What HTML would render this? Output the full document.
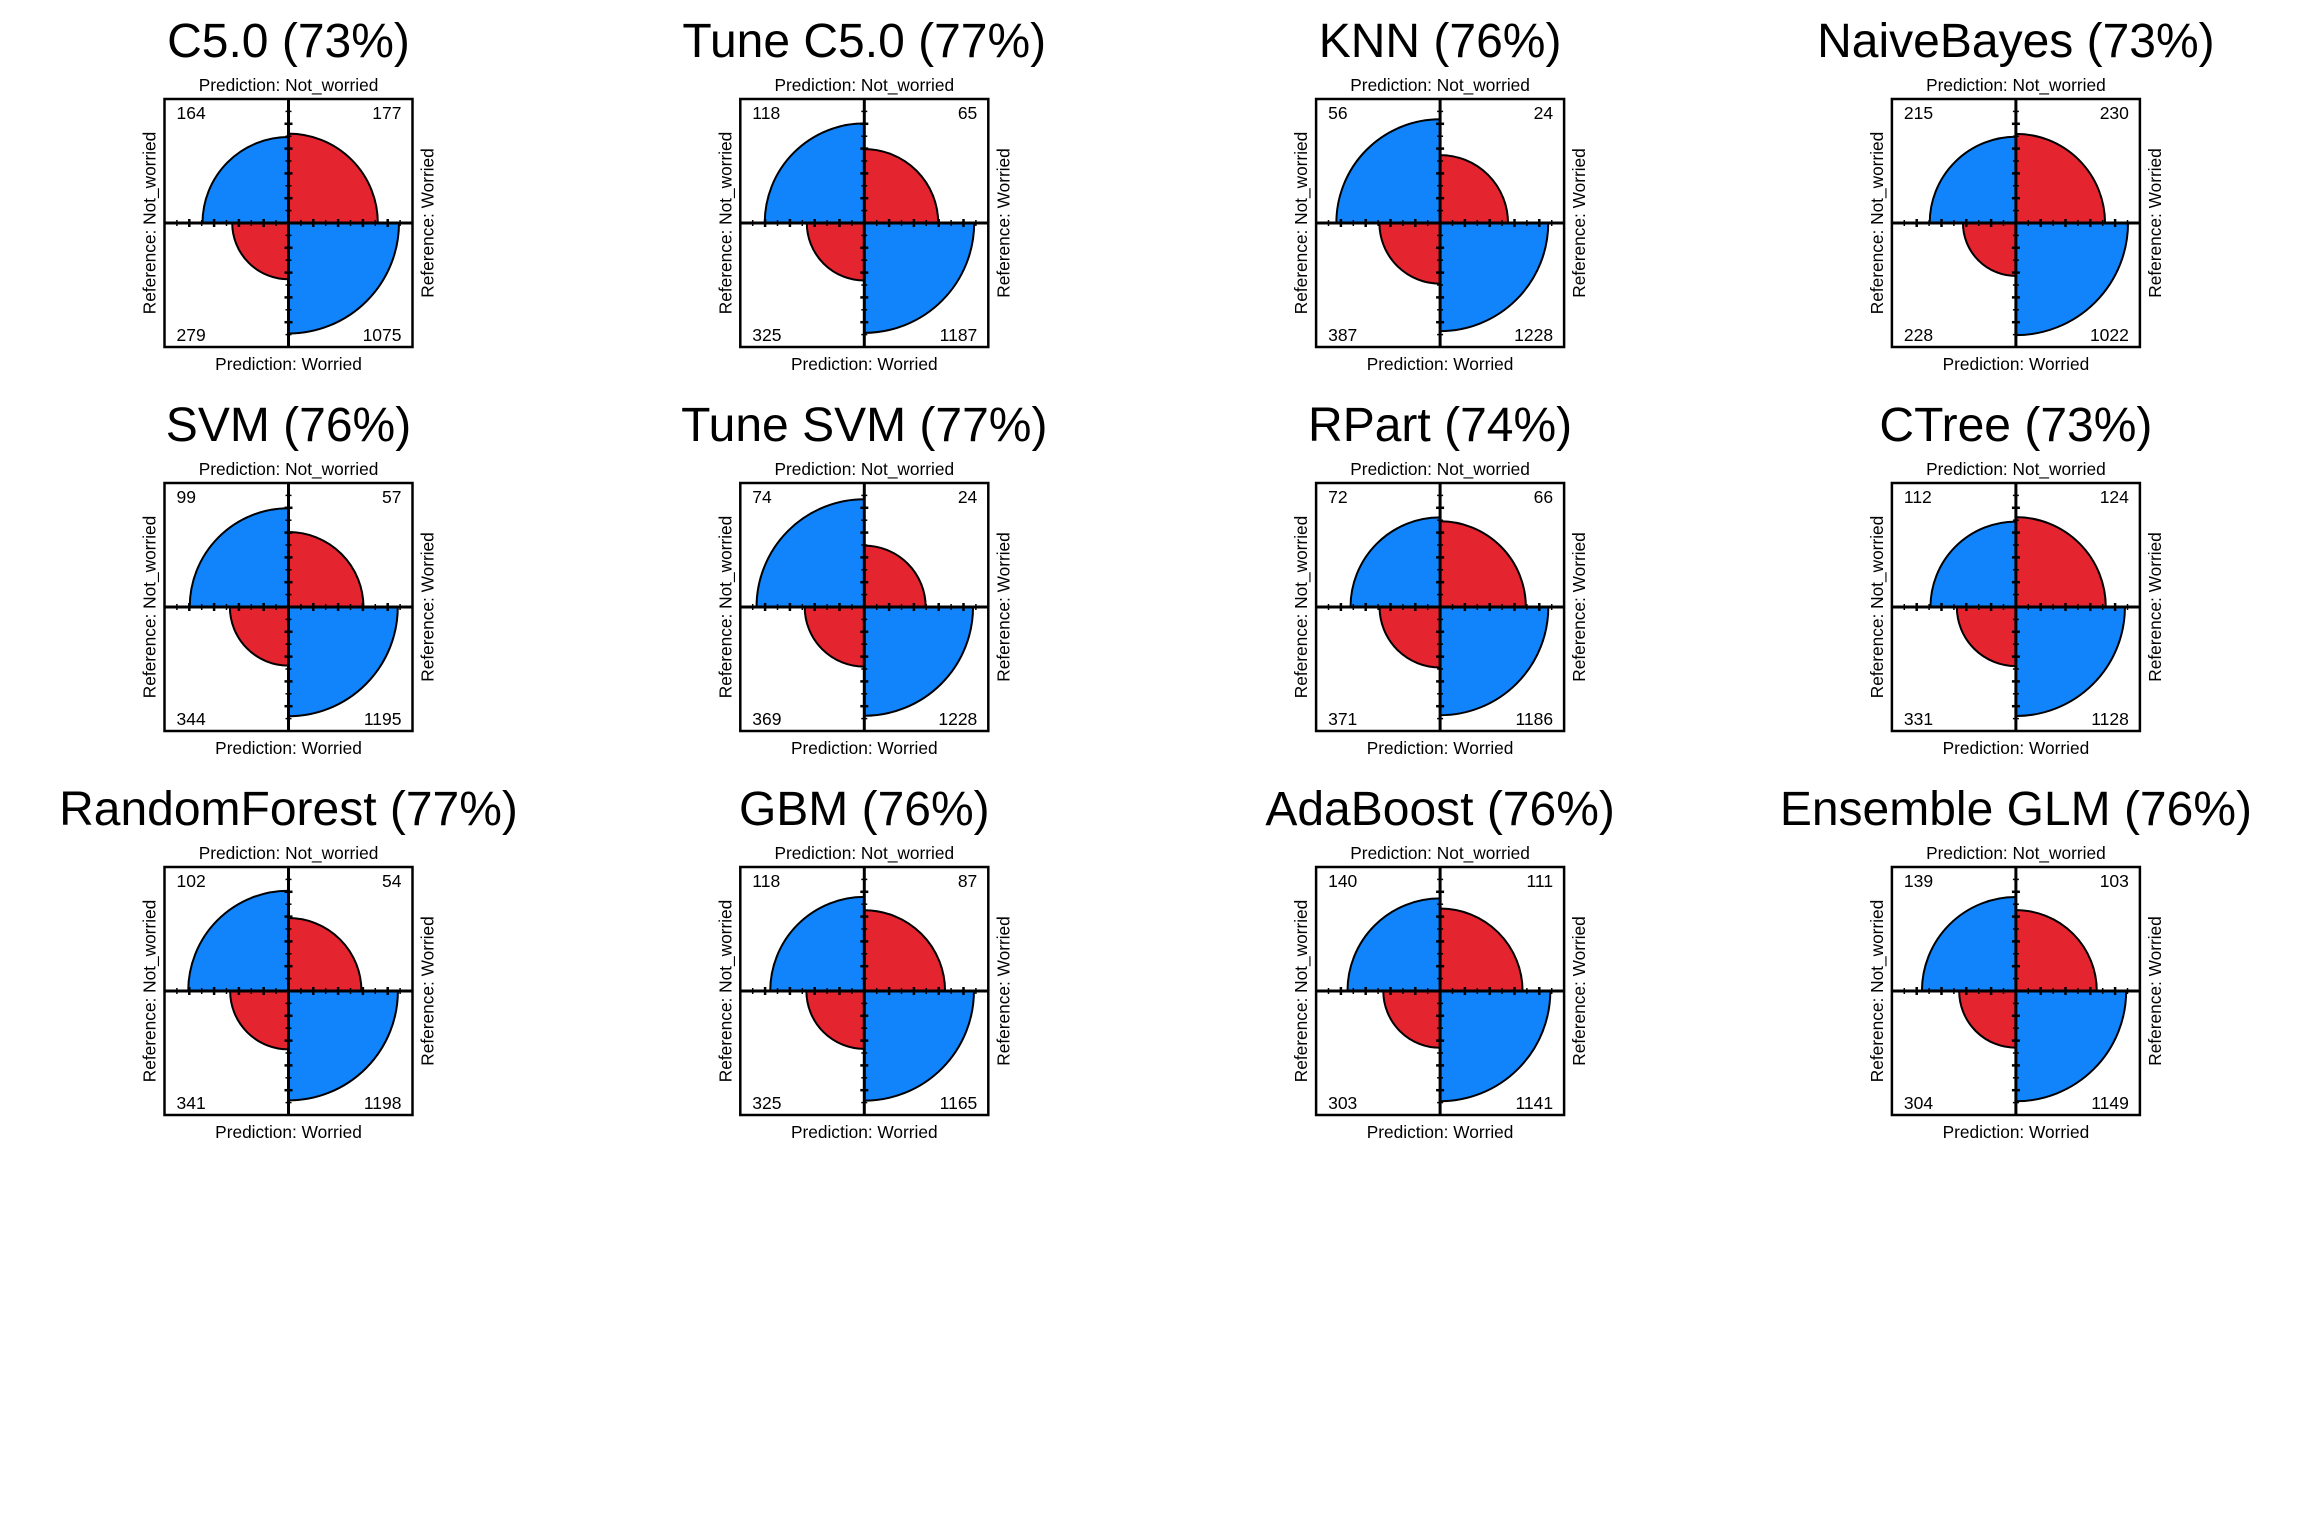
<!DOCTYPE html>
<html><head><meta charset="utf-8"><style>
html,body{margin:0;padding:0;background:#fff;}
svg{display:block;font-family:"Liberation Sans",sans-serif;}
</style></head><body>
<svg id="chart" width="2304" height="1536" viewBox="0 0 2304 1536" xmlns="http://www.w3.org/2000/svg"></svg>
<script>
const models = ["C5.0 (73%)","Tune C5.0 (77%)","KNN (76%)","NaiveBayes (73%)","SVM (76%)","Tune SVM (77%)","RPart (74%)","CTree (73%)","RandomForest (77%)","GBM (76%)","AdaBoost (76%)","Ensemble GLM (76%)"];
// counts: [topLeft, topRight, bottomLeft, bottomRight]
const tlCounts = [164,118,56,215,99,74,72,112,102,118,140,139];
const trCounts = [177,65,24,230,57,24,66,124,54,87,111,103];
const blCounts = [279,325,387,228,344,369,371,331,341,325,303,304];
const brCounts = [1075,1187,1228,1022,1195,1228,1186,1128,1198,1165,1141,1149];

const NS = "http://www.w3.org/2000/svg";
const svg = document.getElementById('chart');
const H = 124, X0 = 288.5, Y0 = 223, DX = 575.8, DY = 384;
const BLUE = "#1184fc", RED = "#e4242f";
function mk(tag, attrs, parent){const e=document.createElementNS(NS,tag);for(const k in attrs)e.setAttribute(k,attrs[k]);(parent||svg).appendChild(e);return e;}
function txt(s, attrs, parent){const e=mk('text',attrs,parent);e.textContent=s;return e;}
function wedge(cx,cy,r,q){
  const sx = (q===1||q===3)?1:-1, sy=(q===2||q===3)?1:-1;
  const sweep = (q===0||q===3)?1:0;
  return `M${cx},${cy} L${cx+sx*r},${cy} A${r},${r} 0 0 ${sweep} ${cx},${cy+sy*r} Z`;
}
models.forEach((m,i)=>{
  const cx = X0 + (i%4)*DX, cy = Y0 + Math.floor(i/4)*DY;
  const g = mk('g',{});
  
  
  const t1 = txt(m,{x:cx,y:cy-H-42,'text-anchor':'middle','font-size':48},g);
  
  
  const vals=[tlCounts[i],trCounts[i],blCounts[i],brCounts[i]];
  const topTot = vals[0]+vals[1], botTot = vals[2]+vals[3];
  const tots=[topTot,topTot,botTot,botTot];
  vals.forEach((v,q)=>{
    const r = H*Math.sqrt(v/tots[q]);
    const p = mk('path',{d:wedge(cx,cy,r,q),fill:(q===0||q===3)?BLUE:RED,stroke:'#000','stroke-width':2},g);
    
    
  });
  const box = mk('rect',{x:cx-H,y:cy-H,width:2*H,height:2*H,fill:'none',stroke:'#000','stroke-width':2.5},g);
  
  
  mk('line',{x1:cx-H,y1:cy,x2:cx+H,y2:cy,stroke:'#000','stroke-width':3},g);
  mk('line',{x1:cx,y1:cy-H,x2:cx,y2:cy+H,stroke:'#000','stroke-width':3},g);
  for(let k=1;k<=9;k++){
    const d=k*H/10, L=(k%2===0)?4:3, w=(k%2===0)?2.5:1.5;
    [-1,1].forEach(s=>{
      mk('line',{x1:cx+s*d,y1:cy-L,x2:cx+s*d,y2:cy+L,stroke:'#000','stroke-width':w},g);
      mk('line',{x1:cx-L,y1:cy+s*d,x2:cx+L,y2:cy+s*d,stroke:'#000','stroke-width':w},g);
    });
  }
  const fs=17.3;
  const a=txt('Prediction: Not_worried',{x:cx,y:cy-H-8,'text-anchor':'middle','font-size':fs},g);
  
  const b=txt('Prediction: Worried',{x:cx,y:cy+H+23,'text-anchor':'middle','font-size':fs},g);
  
  const c=txt('Reference: Not_worried',{x:0,y:0,'text-anchor':'middle','font-size':fs,transform:`translate(${cx-H-9},${cy}) rotate(-90)`},g);
  
  const d=txt('Reference: Worried',{x:0,y:0,'text-anchor':'middle','font-size':fs,transform:`translate(${cx+H+21},${cy}) rotate(-90)`},g);
  
  const pos=[[cx-H+12,cy-H+20,'start'],[cx+H-11,cy-H+20,'end'],[cx-H+12,cy+H-6,'start'],[cx+H-11,cy+H-6,'end']];
  vals.forEach((v,q)=>{
    const e=txt(String(v),{x:pos[q][0],y:pos[q][1],'text-anchor':pos[q][2],'font-size':17.5},g);
    
    
  });
});
</script>
</body></html>
